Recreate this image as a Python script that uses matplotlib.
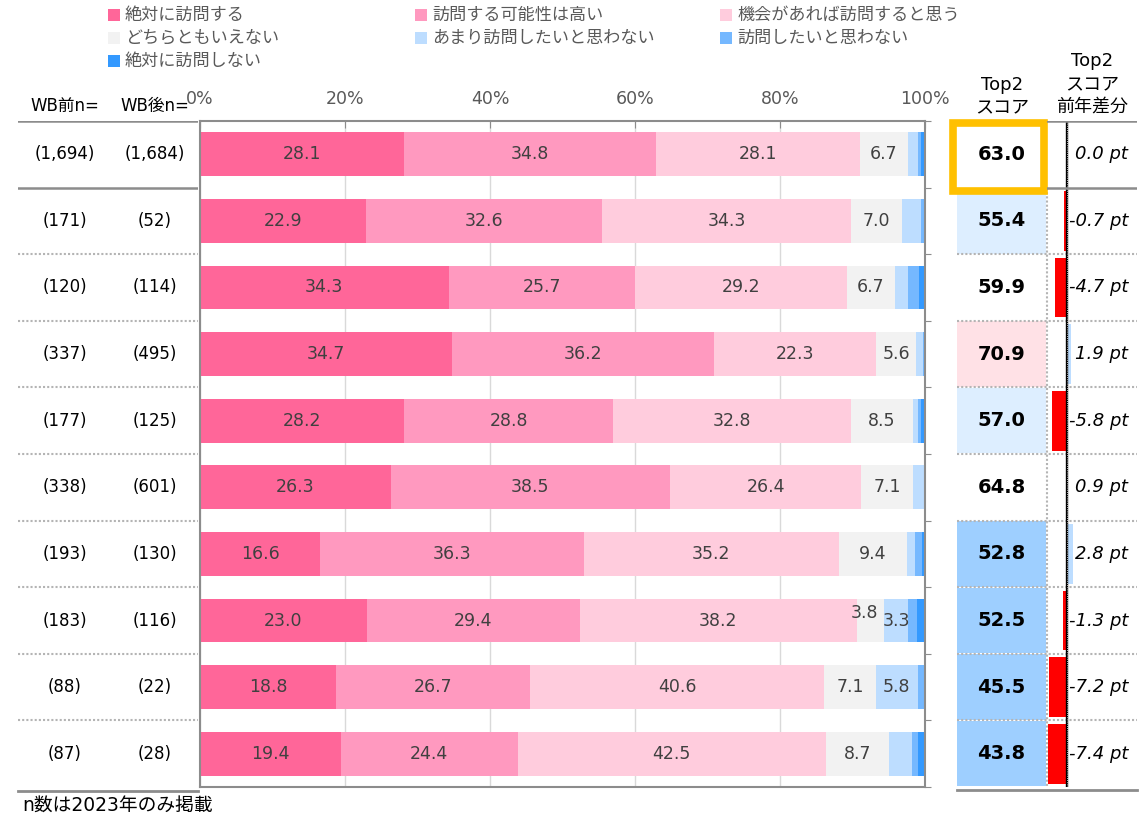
import numpy as np
import matplotlib
matplotlib.use('Agg')
import matplotlib.pyplot as plt
from matplotlib.patches import Rectangle

plt.rcParams['font.family'] = ['DejaVu Sans', 'Noto Sans CJK JP']

# answer categories (stack order)
categories = ['絶対に訪問する', '訪問する可能性は高い', '機会があれば訪問すると思う',
              'どちらともいえない', 'あまり訪問したいと思わない', '訪問したいと思わない',
              '絶対に訪問しない']

n_before = [1694, 171, 120, 337, 177, 338, 193, 183, 88, 87]
n_after = [1684, 52, 114, 495, 125, 601, 130, 116, 22, 28]

s1 = [28.1, 22.9, 34.3, 34.7, 28.2, 26.3, 16.6, 23.0, 18.8, 19.4]
s2 = [34.8, 32.6, 25.7, 36.2, 28.8, 38.5, 36.3, 29.4, 26.7, 24.4]
s3 = [28.1, 34.3, 29.2, 22.3, 32.8, 26.4, 35.2, 38.2, 40.6, 42.5]
s4 = [6.7, 7.0, 6.7, 5.6, 8.5, 7.1, 9.4, 3.8, 7.1, 8.7]
s5 = [1.3, 2.6, 1.8, 0.9, 0.7, 1.5, 1.1, 3.3, 5.8, 3.2]
s6 = [0.4, 0.6, 1.5, 0.3, 0.4, 0.2, 1.0, 1.2, 1.0, 0.8]
s7 = [0.6, 0.0, 0.8, 0.0, 0.6, 0.0, 0.4, 1.1, 0.0, 1.0]

top2 = [63.0, 55.4, 59.9, 70.9, 57.0, 64.8, 52.8, 52.5, 45.5, 43.8]
diff = [0.0, -0.7, -4.7, 1.9, -5.8, 0.9, 2.8, -1.3, -7.2, -7.4]

xticks = [0, 20, 40, 60, 80, 100]

colors = ['#FF6699', '#FF99BF', '#FFCCDD', '#F2F2F2', '#BDDDFF', '#75B8FF', '#3399FF']
label_shift = {(7, 3): (-0.8, -0.11)}

W, H = 1147, 821
fig = plt.figure(figsize=(W / 100, H / 100), dpi=100)


def box(x0, y0, x1, y1):
    return [x0 / W, 1 - y1 / H, (x1 - x0) / W, (y1 - y0) / H]


GRID = '#8C8C8C'
DOT = '#B4B4B4'
nrows = len(s1)
y = np.arange(nrows)
bounds = np.arange(0.5, nrows - 0.5, 1)

# --- main stacked bars
ax = fig.add_axes(box(200, 121, 925, 787))
left = np.zeros(nrows)
for k, (vals, col) in enumerate(zip([s1, s2, s3, s4, s5, s6, s7], colors)):
    vals = np.array(vals)
    ax.barh(y, vals, left=left, height=0.66, color=col, edgecolor='none')
    for i, v in enumerate(vals):
        if v >= 3.3:
            dx, dy = label_shift.get((i, k), (0, 0))
            ax.text(left[i] + v / 2 + dx, y[i] + dy, f'{v:.1f}', ha='center', va='center',
                    fontsize=12.5, color='#404040')
    left += vals
ax.set_xlim(0, 100)
ax.set_ylim(nrows - 0.5, -0.5)
ax.set_xticks(xticks)
ax.set_xticklabels([f'{t}%' for t in xticks])
ax.xaxis.tick_top()
ax.tick_params(axis='x', direction='in', length=5, color=GRID, labelsize=12.5,
               labelcolor='#595959', pad=9)
ax.set_yticks(np.arange(-0.5, nrows, 1))
ax.tick_params(axis='y', left=False, right=True, labelleft=False, length=4, color=GRID)
ax.set_axisbelow(True)
ax.xaxis.grid(True, color='#D9D9D9', lw=1)
for sp in ax.spines.values():
    sp.set_color(GRID)
    sp.set_linewidth(1.5)

# --- left table with n counts
axn = fig.add_axes(box(18, 121, 198, 787))
axn.set_xlim(0, 1)
axn.set_ylim(nrows - 0.5, -0.5)
axn.axis('off')
for i in range(nrows):
    axn.text(0.26, i, f'({n_before[i]:,})', ha='center', va='center', fontsize=12)
    axn.text(0.76, i, f'({n_after[i]:,})', ha='center', va='center', fontsize=12)
axn.axhline(-0.5, color=GRID, lw=1.8)
axn.axhline(0.5, color=GRID, lw=1.8)
for b in bounds[1:]:
    axn.axhline(b, color=DOT, lw=1.5, linestyle=(0, (1, 1)))
axn.plot([0, 1], [9.56, 9.56], color=GRID, lw=2, clip_on=False)

# --- Top2 score column
ax_t = fig.add_axes(box(957, 121, 1046, 787))
ax_t.set_xlim(0, 1)
ax_t.set_ylim(nrows - 0.5, -0.5)
ax_t.axis('off')
base = top2[0]
cell_cols = []
for v in top2:
    d = v - base
    if d >= 5:
        cell_cols.append('#FFE1E6')
    elif d <= -10:
        cell_cols.append('#9ECFFF')
    elif d <= -5:
        cell_cols.append('#DDEEFF')
    else:
        cell_cols.append('white')
ax_t.barh(y, 1, left=0, height=0.98, color=cell_cols)
for i, v in enumerate(top2):
    ax_t.text(0.5, i, f'{v:.1f}', ha='center', va='center', fontsize=14,
              fontweight='bold', color='black')
span = (1137 - 957) / (1046 - 957)
trans = ax_t.get_yaxis_transform()
for b in bounds[1:]:
    ax_t.plot([0, span], [b, b], color=DOT, lw=1.5, linestyle=(0, (1, 1)),
              transform=trans, clip_on=False)
ax_t.plot([(1047 - 957) / 89] * 2, [0.5, 9.5], color=DOT, lw=1.5, linestyle=(0, (1, 1)),
          transform=trans, clip_on=False)
ax_t.plot([0, span], [9.55, 9.55], color=GRID, lw=2, transform=trans, clip_on=False)
ax_t.add_patch(Rectangle((-0.04, -0.47), 1.02, 1.02, facecolor='none', edgecolor='#FFC000',
                         lw=5.5, clip_on=False, zorder=10))

# --- year-on-year difference column
ax_d = fig.add_axes(box(1047, 121, 1137, 787))
ax_d.patch.set_alpha(0)
ax_d.set_xlim(-7.9, 29.6)
ax_d.set_ylim(nrows - 0.5, -0.5)
ax_d.axis('off')
dcols = ['#FF0000' if v < 0 else '#BDDDFF' for v in diff]
ax_d.barh(y, diff, height=0.9, color=dcols)
ax_d.axvline(0.45, color='black', lw=1.7)
ax_d.axvline(0.45, color='white', lw=0.6, dashes=(1.0, 1.6))
for i, v in enumerate(diff):
    ax_d.text(0.9, i, f'{v:.1f} pt', ha='right', va='center', fontsize=13, style='italic',
              transform=ax_d.get_yaxis_transform())
ax_d.axhline(-0.5, color=GRID, lw=1.8)
ax_d.axhline(0.5, color=GRID, lw=1.8)

# --- headers
def ftext(x, yy, s, **kw):
    fig.text(x / W, 1 - yy / H, s, **kw)


ftext(65, 106, 'WB前n=', ha='center', va='center', fontsize=12)
ftext(155, 106, 'WB後n=', ha='center', va='center', fontsize=12)
ftext(1002, 96, 'Top2\nスコア', ha='center', va='center', fontsize=13, linespacing=1.35)
ftext(1092, 84, 'Top2\nスコア\n前年差分', ha='center', va='center', fontsize=13,
      linespacing=1.35)
ftext(22, 806, 'n数は2023年のみ掲載', ha='left', va='center', fontsize=13.5)

# --- legend, laid out row by row
leg_x = [108, 415, 720]
for i, (lab, col) in enumerate(zip(categories, colors)):
    r, c = divmod(i, 3)
    lx, ly = leg_x[c], 15 + 23 * r
    fig.add_artist(Rectangle((lx / W, 1 - (ly + 6) / H), 12 / W, 12 / H,
                             transform=fig.transFigure, facecolor=col, edgecolor='none'))
    ftext(lx + 17, ly, lab, ha='left', va='center', fontsize=12.3, color='#595959')

fig.savefig('out.png', dpi=100)
